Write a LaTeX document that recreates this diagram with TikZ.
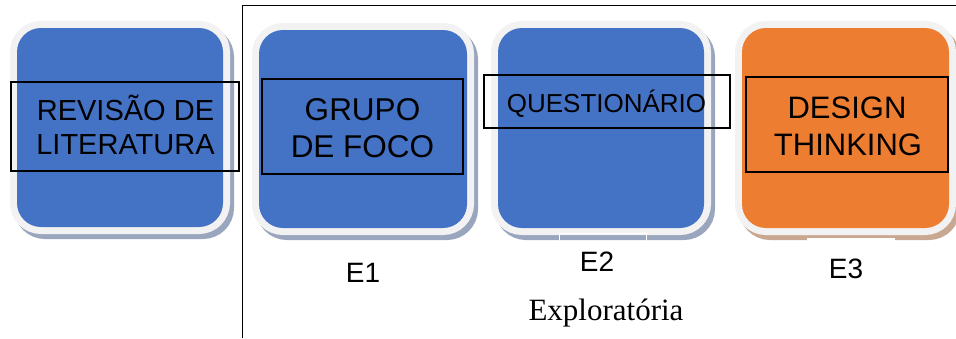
\documentclass[tikz,border=0pt]{standalone}
\usepackage{fontspec}
\setmainfont{Liberation Serif}
\newfontfamily\arialfont{Liberation Sans}
\definecolor{tileblue}{HTML}{4472C4}
\definecolor{tileorange}{HTML}{ED7D31}
\definecolor{tilerim}{HTML}{F2F2F2}
\definecolor{shadeblue}{HTML}{9AA6BE}
\definecolor{shadeorange}{HTML}{C9A892}
\tikzset{
  tile/.style n args={3}{rectangle, rounded corners=24pt, inner sep=0pt,
    minimum width=#1, minimum height=#2, fill=#3},
  rimmed/.style={
    preaction={draw=#1, fill=#1, line width=14pt, transform canvas={shift={(4pt,-5pt)}}},
    preaction={draw=tilerim, fill=tilerim, line width=14pt}},
  textframe/.style n args={2}{rectangle, draw=black, line width=1.5pt, inner sep=0pt,
    minimum width=#1, minimum height=#2},
  boxtext/.style={font=\arialfont\fontsize{#1}{#1}\selectfont, anchor=base, inner sep=0pt},
  labeltext/.style={font=\arialfont\fontsize{28}{28}\selectfont, anchor=base, inner sep=0pt},
  frameline/.style={line width=1.9pt, black},
}
\begin{document}
\begin{tikzpicture}[x=1pt,y=-1pt]
\useasboundingbox (0,0) rectangle (956,338);
% tiles
\node[tile={206}{199}{tileblue}, rimmed=shadeblue] (t1) at (120,127.5) {};
\node[tile={208}{198}{tileblue}, rimmed=shadeblue] (t2) at (363,129) {};
\node[tile={206}{200}{tileblue}, rimmed=shadeblue] (t3) at (601,128) {};
\node[tile={207}{200}{tileorange}, rimmed=shadeorange] (t4) at (845.5,128) {};
% white label frames overlapping shadows
\node[rectangle, draw=white, line width=1pt, minimum width=87, minimum height=60, inner sep=0pt, anchor=north west] (e2box) at (558.5,232.5) {};
\node[rectangle, fill=white, minimum width=88, minimum height=50, inner sep=0pt, anchor=north west] (e3box) at (807,238) {};
% text frames
\node[textframe={228}{89}] (f1) at (125,126.5) {};
\node[textframe={201}{95}] (f2) at (362.5,126.5) {};
\node[textframe={246}{53}] (f3) at (607,101.5) {};
\node[textframe={202}{95}] (f4) at (847,124.5) {};
% texts
\node[boxtext=29] (r1a) at (125.5,120) {REVISÃO DE};
\node[boxtext=29] (r1b) at (125.5,154) {LITERATURA};
\node[boxtext=31.5] (r2a) at (362.5,120) {GRUPO};
\node[boxtext=31.5] (r2b) at (362.5,157) {DE FOCO};
\node[boxtext=26] (r3a) at (606.5,112) {QUESTIONÁRIO};
\node[boxtext=31] (r4a) at (847,118) {DESIGN};
\node[boxtext=31] (r4b) at (848,155) {THINKING};
% labels
\node[labeltext] (e1) at (363,282) {E1};
\node[labeltext] (e2) at (597,271) {E2};
\node[labeltext] (e3) at (846,278) {E3};
\node[font=\fontsize{31}{31}\selectfont, anchor=base, inner sep=0pt] (expl) at (606,320) {Exploratória};
% frame
\coordinate (fbot) at (242.5,338);
\coordinate (fright) at (956,5.5);
\draw[frameline] (fbot) |- (fright);
\end{tikzpicture}
\end{document}
